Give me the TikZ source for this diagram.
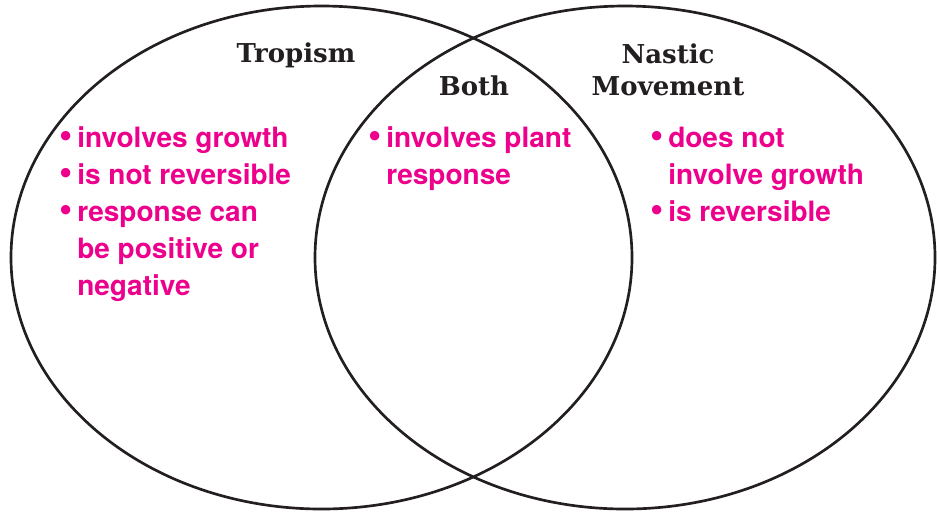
\documentclass[tikz,border=0pt]{standalone}
\usepackage{fontspec}
\setmainfont{TeX Gyre Heros}
\newfontfamily\headfont{DejaVu Serif}[BoldFont={DejaVu Serif Bold}]
\usepackage{graphicx}
\usepackage{tikz}
\usetikzlibrary{positioning}
\definecolor{cPink}{RGB}{236,0,140}
\definecolor{cLine}{RGB}{35,31,32}
\tikzset{
  ring/.style={draw=cLine,line width=2pt},
  head/.style={inner sep=0pt,align=center,text=cLine,
               font=\headfont\bfseries\fontsize{19.5}{24}\selectfont},
  item/.style={inner sep=0pt,anchor=base west,text=cPink,
               font=\bfseries\fontsize{21}{28}\selectfont},
}
\newcommand{\bul}{\llap{\raisebox{-0.6pt}{\scalebox{1.35}{\textbullet}}\hspace{3.5pt}}}

\begin{document}
\begin{tikzpicture}[x=0.75pt,y=-0.75pt]
  \useasboundingbox (0,0) rectangle (937,512);

  % ---- the two sets ----
  \draw[ring] (321.5,257.5) ellipse [x radius=310.5,y radius=251.5];
  \draw[ring] (625,257.5) ellipse [x radius=310,y radius=251.5];

  % ---- headings ----
  \node[head,anchor=base] (tropism) at (296,62) {Tropism};
  \node[head,anchor=base] (both)    at (474,95) {Both};
  \node[head,anchor=base] (nastic)  at (668,63) {Nastic};
  \node[head,anchor=base] (movement) at (668,95) {Movement};

  % ---- tropism only ----
  \node[item] (t1) at (77,147) {\bul involves growth};
  \node[item] (t2) at (77,184) {\bul is not reversible};
  \node[item] (t3) at (77,221) {\bul response can};
  \node[item] (t4) at (77,258) {be positive or};
  \node[item] (t5) at (77,295) {negative};

  % ---- both ----
  \node[item] (b1) at (386,147) {\bul involves plant};
  \node[item] (b2) at (386,184) {response};

  % ---- nastic movement only ----
  \node[item] (n1) at (668,147) {\bul does not};
  \node[item] (n2) at (668,184) {involve growth};
  \node[item] (n3) at (668,221) {\bul is reversible};
\end{tikzpicture}
\end{document}
